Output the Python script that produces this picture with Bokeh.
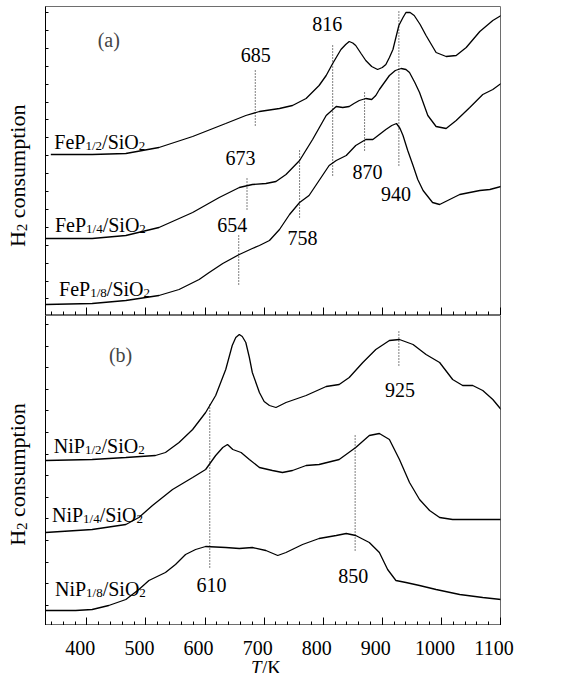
import math
from bokeh.plotting import figure
from bokeh.models import Range1d, SingleIntervalTicker, FixedTicker, Label, ColumnDataSource
from bokeh.layouts import column, row
from bokeh.core.properties import value
from bokeh.embed import file_html
from bokeh.resources import INLINE

FONT = "Liberation Serif"

# ---------------- data (T in K, H2 consumption in arbitrary units) ----------------
fep12_T = [339, 409, 466, 522, 579, 635, 669, 692, 726, 748, 771, 793, 805, 816, 830, 838, 844, 850, 855, 864,
           872, 882, 892, 900, 906, 912, 918, 928, 935, 940, 947, 954, 964, 974, 991, 1008, 1025, 1042, 1065, 1087, 1101]
fep12_H = [161, 161, 162, 168, 179, 192, 200, 204, 207, 210, 217, 230, 240, 252, 266, 271, 274, 272.5, 270, 262,
           255, 249, 246, 248, 251, 258, 266, 290, 298, 303, 303, 300, 291, 280, 263, 259, 260, 268, 284, 295, 300]

fep14_T = [330, 409, 466, 522, 579, 624, 658, 680, 703, 720, 737, 760, 782, 805, 822, 833, 844, 852, 861, 872,
           882, 889, 895, 912, 922, 932, 940, 946, 955, 963, 977, 991, 1008, 1025, 1048, 1070, 1087, 1101]
fep14_H = [77, 77, 80, 88, 103, 118, 128, 131, 132, 134, 141, 155, 176, 200, 209, 208, 209, 212, 215, 217,
           216, 220, 226, 240, 245, 247, 246, 243, 233, 223, 200, 189, 187, 195, 208, 221, 226, 232]

fep18_T = [330, 409, 466, 522, 556, 590, 607, 630, 658, 680, 692, 709, 726, 743, 760, 776, 793, 810, 822, 839,
           855, 872, 884, 895, 906, 916, 924, 930, 935, 943, 952, 960, 969, 985, 997, 1014, 1031, 1048, 1065, 1082, 1101]
fep18_H = [11, 12, 15, 20, 26, 36, 43, 52, 61, 67, 70, 75, 86, 101, 113, 120, 135, 150, 155, 160,
           170, 176, 176, 181, 186, 190, 192, 187, 180, 165, 150, 136, 125, 113, 111, 116, 121, 123, 125, 126, 129]

nip12_T = [330, 409, 466, 516, 533, 556, 579, 601, 618, 635, 646, 652, 658, 663, 669, 675, 680, 692, 700, 709,
           720, 737, 771, 805, 827, 844, 867, 889, 912, 929, 952, 974, 997, 1019, 1036, 1053, 1070, 1087, 1101]
nip12_H = [165, 166, 168, 170, 173, 183, 196, 213, 230, 256, 280, 288, 291, 289, 283, 268, 253, 233, 224, 220,
           218, 223, 230, 239, 241, 248, 263, 276, 285, 286, 281, 271, 263, 246, 240, 240, 235, 226, 216]

nip14_T = [330, 409, 466, 488, 511, 545, 579, 601, 618, 630, 638, 647, 661, 675, 692, 714, 731, 748, 771, 793,
           827, 855, 878, 895, 912, 929, 946, 963, 980, 997, 1019, 1101]
nip14_H = [93, 96, 101, 108, 120, 136, 148, 156, 170, 178, 181, 176, 173, 166, 158, 155, 153, 155, 160, 161,
           166, 178, 190, 192, 186, 166, 143, 126, 115, 108, 106, 106]

nip18_T = [330, 381, 409, 437, 466, 488, 505, 533, 550, 567, 584, 601, 635, 658, 680, 703, 723, 737, 765, 793,
           822, 839, 855, 878, 895, 909, 923, 940, 963, 991, 1031, 1070, 1101]
nip18_H = [15, 15, 16, 20, 26, 36, 45, 53, 61, 71, 76, 79, 78, 77, 78, 75, 70, 73, 81, 87,
           90, 92, 90, 83, 73, 56, 45, 43, 40, 36, 31, 28, 26]

# marker (dotted) lines: temperature, lower and upper signal
mark_a_T = [685, 816, 870, 928, 760, 671, 657]
mark_a_y0 = [190, 140, 165, 150, 98, 106, 31]
mark_a_y1 = [245, 272, 224, 306, 165, 139, 80]
mark_b_T = [608, 928, 854]
mark_b_y0 = [58, 260, 75]
mark_b_y1 = [221, 296, 192]

# peak temperature annotations
peak_a_text = ["685", "816", "673", "654", "758", "870", "940"]
peak_a_T = [686, 807, 660, 646, 765, 875, 923]
peak_a_y = [261, 292, 158, 91, 78, 144, 122]
peak_b_text = ["925", "610", "850"]
peak_b_T = [930, 611, 851]
peak_b_y = [236, 41, 50]

# x tick labels
xtick_T = [400, 500, 600, 700, 800, 900, 1000, 1100]
xtick_text = ["400", "500", "600", "700", "800", "900", "1000", "1100"]

# sample names: (prefix, subscript, rest, subscript), label anchor
names_a = [("FeP", "1/2", "/SiO", "2", 345, 174),
           ("FeP", "1/4", "/SiO", "2", 346, 91),
           ("FeP", "1/8", "/SiO", "2", 353, 27)]
names_b = [("NiP", "1/2", "/SiO", "2", 344, 180),
           ("NiP", "1/4", "/SiO", "2", 341, 111),
           ("NiP", "1/8", "/SiO", "2", 346, 37)]

# ---------------- layout constants ----------------
T0, T1 = 330, 1100
LAB_W = 43            # width of the y-title strip
BORDER_L = 2          # panel border left of the frame
FRAME_W = 455
BORDER_R = 20
PANEL_W = BORDER_L + FRAME_W + BORDER_R
TOTAL_W = LAB_W + PANEL_W

# ---------------- helpers ----------------
EM = {"F": 556, "e": 444, "P": 556, "N": 722, "i": 278, "S": 556, "O": 722, "/": 278,
      "1": 500, "2": 500, "4": 500, "8": 500, "H": 722, " ": 250, "c": 444, "o": 500, "n": 500,
      "s": 389, "u": 500, "m": 778, "p": 500, "t": 278, "T": 556, "K": 722}


def tw(s, size):
    return sum(EM.get(ch, 500) for ch in s) / 1000.0 * size


x_range = Range1d(T0, T1)


def make_panel(height, ymax, top, yticks):
    p = figure(width=PANEL_W, height=height, x_range=x_range, y_range=Range1d(0, ymax), title=None,
               output_backend="svg", toolbar_location=None,
               min_border_left=BORDER_L, min_border_right=BORDER_R, min_border_top=top, min_border_bottom=0)
    p.xgrid.visible = False
    p.ygrid.visible = False
    p.outline_line_color = "#6e6e6e"
    p.outline_line_width = 1
    xa = p.xaxis[0]
    xa.ticker = SingleIntervalTicker(interval=100, num_minor_ticks=5)
    xa.major_tick_in = 8
    xa.major_tick_out = 0
    xa.minor_tick_in = 4
    xa.minor_tick_out = 0
    xa.axis_line_color = "black"
    xa.major_tick_line_color = "black"
    xa.minor_tick_line_color = "black"
    xa.major_label_text_color = None
    xa.major_label_standoff = 0
    ya = p.yaxis[0]
    ya.ticker = FixedTicker(ticks=yticks)
    ya.major_tick_in = 3
    ya.major_tick_out = 0
    ya.minor_tick_in = 0
    ya.minor_tick_out = 0
    ya.major_label_text_color = None
    ya.major_label_standoff = 0
    ya.axis_line_color = "black"
    return p


def make_blank(w, h, xr=None):
    f = figure(width=w, height=h, x_range=xr if xr is not None else Range1d(0, w), y_range=Range1d(0, h),
               title=None, x_axis_type=None, y_axis_type=None, output_backend="svg", toolbar_location=None,
               min_border_left=0, min_border_right=0, min_border_top=0, min_border_bottom=0)
    f.outline_line_color = None
    return f


def add_name(p, parts):
    pre, sub1, mid, sub2, x, y = parts
    big, small = 20, 13
    off = 0.0
    for txt, sz, dy in ((pre, big, 0), (sub1, small, -4), (mid, big, 0), (sub2, small, -4)):
        p.add_layout(Label(x=x, y=y, x_offset=off, y_offset=dy, text=txt, text_font=FONT,
                           text_font_size=f"{sz}px", text_align="left", text_baseline="alphabetic",
                           text_color="black"))
        off += tw(txt, sz)


def add_ylabel(f, xbase, ycenter):
    big, small = 22, 15
    pieces = (("H", big, 0, 0.0), ("2", small, 4, 0.0), ("consumption", big, 0, tw(" ", big)))
    total = sum(tw(t, s) + gap for t, s, _, gap in pieces)
    y0 = ycenter - total / 2
    off = 0.0
    for txt, sz, dx, gap in pieces:
        off += gap
        f.add_layout(Label(x=xbase, y=y0, x_offset=dx, y_offset=off, text=txt, text_font=FONT,
                           text_font_size=f"{sz}px", angle=math.pi / 2, text_align="left",
                           text_baseline="alphabetic", text_color="black"))
        off += tw(txt, sz)


def add_marks(p, T, y0, y1):
    src = ColumnDataSource(dict(x=T, y0=y0, y1=y1))
    p.segment(x0="x", y0="y0", x1="x", y1="y1", source=src, line_color="black",
              line_width=1, line_dash="1 2")


def add_peaks(p, texts, T, y):
    src = ColumnDataSource(dict(x=T, y=y, t=texts))
    p.text(x="x", y="y", text="t", source=src, text_font=value(FONT), text_font_size="20px",
           text_align="center", text_baseline="middle", text_color="black")


# ---------------- panel (a) ----------------
yt_a = [16.6 + 17.9 * k for k in range(17)]
pa = make_panel(315, 309, 6, yt_a)
for T, H in ((fep12_T, fep12_H), (fep14_T, fep14_H), (fep18_T, fep18_H)):
    pa.line(T, H, line_color="black", line_width=1.3)
add_marks(pa, mark_a_T, mark_a_y0, mark_a_y1)
add_peaks(pa, peak_a_text, peak_a_T, peak_a_y)
for n in names_a:
    add_name(pa, n)
pa.add_layout(Label(x=437, y=276, text="(a)", text_font=FONT, text_font_size="20px",
                    text_align="center", text_baseline="middle"))
ya_lab = make_blank(LAB_W, 315)
add_ylabel(ya_lab, 17, 141)

# ---------------- panel (b) ----------------
yt_b = [20.3 + 21.6 * k for k in range(14)]
pb = make_panel(310, 310, 0, yt_b)
for T, H in ((nip12_T, nip12_H), (nip14_T, nip14_H), (nip18_T, nip18_H)):
    pb.line(T, H, line_color="black", line_width=1.3)
add_marks(pb, mark_b_T, mark_b_y0, mark_b_y1)
add_peaks(pb, peak_b_text, peak_b_T, peak_b_y)
for n in names_b:
    add_name(pb, n)
pb.add_layout(Label(x=457, y=271, text="(b)", text_font=FONT, text_font_size="20px",
                    text_align="center", text_baseline="middle"))
yb_lab = make_blank(LAB_W, 310)
add_ylabel(yb_lab, 17, 151)

# ---------------- bottom strip: tick labels and "T/K" title ----------------
k = (T1 - T0) / FRAME_W   # kelvin per pixel, same scale as the panels
xr_bottom = Range1d(T0 - (LAB_W + BORDER_L) * k, T1 + BORDER_R * k)
xlab = make_blank(TOTAL_W, 48, xr_bottom)
tsrc = ColumnDataSource(dict(x=xtick_T, t=xtick_text))
xlab.text(x="x", y=26, text="t", source=tsrc, x_offset=-6.5, text_font=value(FONT),
          text_font_size="20px", text_align="center", text_baseline="alphabetic", text_color="black")
tk_size = 19
tk_w = tw("T", tk_size) + 0.5 + tw("/K", tk_size)
xlab.text(x=[703], y=[6], text=["T"], x_offset=-tk_w / 2, text_font=value(FONT),
          text_font_size=f"{tk_size}px", text_font_style="italic", text_align="left",
          text_baseline="alphabetic", text_color="black")
xlab.text(x=[703], y=[6], text=["/K"], x_offset=-tk_w / 2 + tw("T", tk_size) + 0.5, text_font=value(FONT),
          text_font_size=f"{tk_size}px", text_align="left", text_baseline="alphabetic", text_color="black")

layout = column(row(ya_lab, pa, spacing=0), row(yb_lab, pb, spacing=0), xlab, spacing=0)
open("out.html", "w").write(file_html(layout, INLINE))
